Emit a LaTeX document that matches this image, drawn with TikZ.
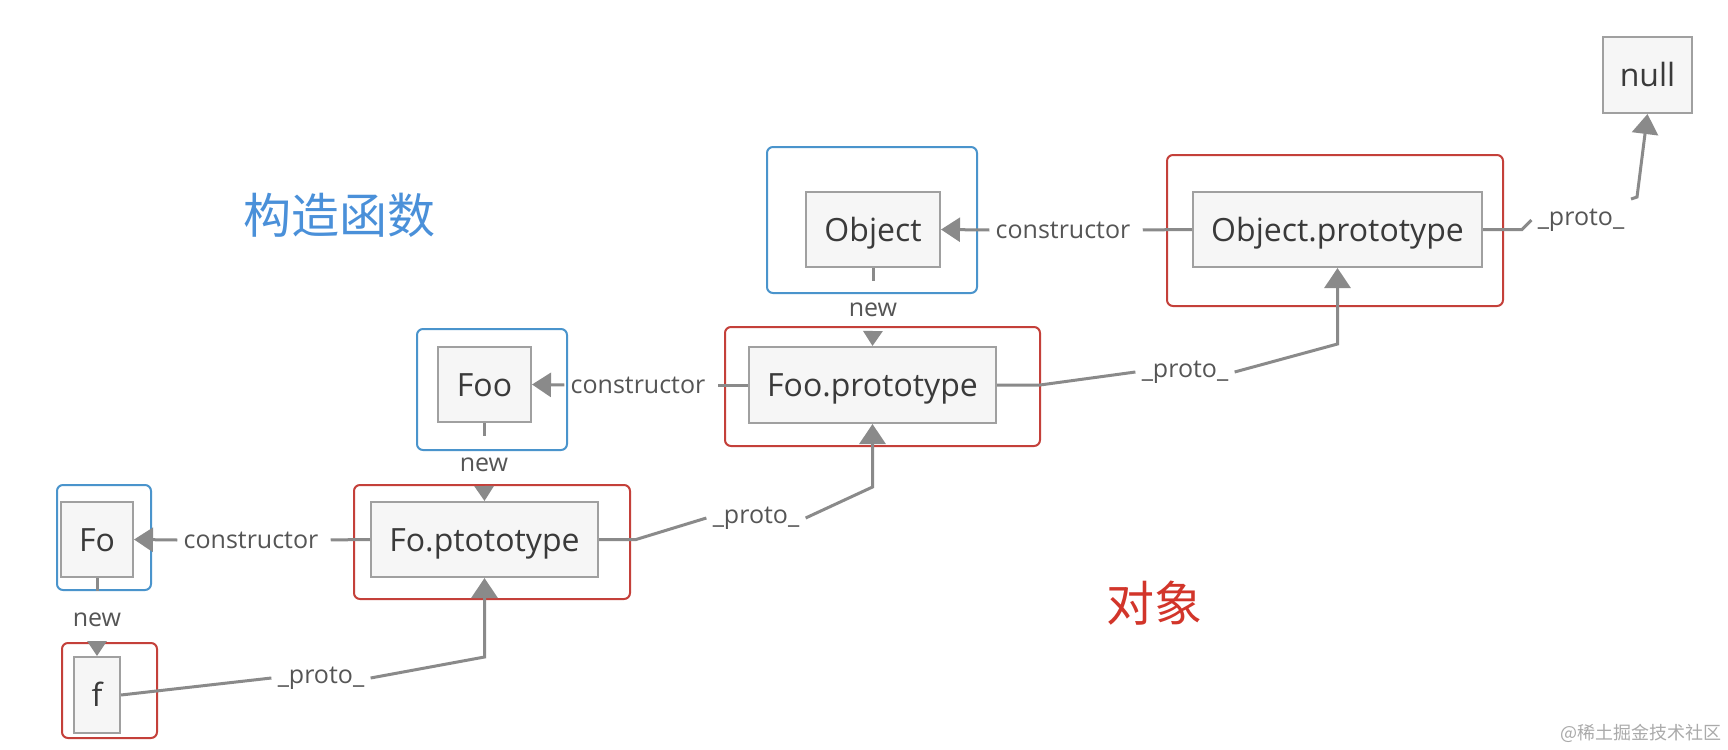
\documentclass[tikz,border=0pt]{standalone}
\usepackage{fontspec}
\setmainfont{Open Sans}
\newfontfamily\cjk{Noto Sans CJK SC}
\usetikzlibrary{arrows.meta}
\definecolor{conncol}{HTML}{8A8A8A}
\definecolor{boxline}{HTML}{A0A0A0}
\definecolor{boxfill}{HTML}{F6F6F6}
\definecolor{frameblue}{HTML}{4A94CC}
\definecolor{framered}{HTML}{C4403A}
\definecolor{txt}{HTML}{3A3A3A}
\definecolor{lbl}{HTML}{555555}
\definecolor{titleblue}{HTML}{4A90D9}
\definecolor{titlered}{HTML}{D2352A}
\definecolor{wmcol}{HTML}{AAAAAA}
\begin{document}
\begin{tikzpicture}[x=0.5pt,y=-0.5pt,
  objbox/.style={draw=boxline,fill=boxfill,line width=1pt,inner sep=0pt,
    font=\fontsize{16}{19}\selectfont,text=txt,text height=11.6pt,text depth=0pt},
  bframe/.style={draw=frameblue,line width=1pt,rounded corners=3pt,inner sep=0pt},
  rframe/.style={draw=framered,line width=1pt,rounded corners=3pt,inner sep=0pt},
  lab/.style={font=\fontsize{12.5}{15}\selectfont,text=lbl,inner sep=3pt},
  conn/.style={draw=conncol,line width=1.5pt},
  bigtip/.style={-{Triangle[length=10pt,width=13pt]}},
  midtip/.style={-{Triangle[length=9.5pt,width=12pt]}},
  smalltip/.style={-{Triangle[length=7.5pt,width=9.5pt]}},
  title/.style={font=\cjk\fontsize{24}{28}\selectfont,inner sep=0pt}
]
\useasboundingbox (0,0) rectangle (1728,749);
\fill[white] (0,0) rectangle (1728,749);

% outer frames
\node[rframe,minimum width=168pt,minimum height=75.5pt] (OPf) at (1335,230.5) {};
\node[bframe,minimum width=105pt,minimum height=73pt] (Objf) at (872,220) {};
\node[rframe,minimum width=157.5pt,minimum height=59.5pt] (FooPf) at (882.5,386.5) {};
\node[bframe,minimum width=75pt,minimum height=60.5pt] (Foof) at (492,389.5) {};
\node[rframe,minimum width=138pt,minimum height=57pt] (FoPf) at (492,542) {};
\node[bframe,minimum width=47pt,minimum height=52.5pt] (Fof) at (104,537.5) {};
\node[rframe,minimum width=47.5pt,minimum height=47.5pt] (ff) at (109.5,690.5) {};

% inner boxes
\node[objbox,minimum width=44.5pt,minimum height=38pt] (null) at (1647.5,75) {null};
\node[objbox,minimum width=144.5pt,minimum height=37.5pt] (OP) at (1337.5,229.5) {Object.prototype};
\node[objbox,minimum width=67pt,minimum height=37.5pt] (Obj) at (873,229.5) {Object};
\node[objbox,minimum width=123.5pt,minimum height=38pt] (FooP) at (872.5,385) {Foo.prototype};
\node[objbox,minimum width=46.5pt,minimum height=37.5pt] (Foo) at (484.5,384.5) {Foo};
\node[objbox,minimum width=113.5pt,minimum height=37.5pt] (FoP) at (484.5,539.5) {Fo.ptototype};
\node[objbox,minimum width=36pt,minimum height=37.5pt] (Fo) at (97,539.5) {Fo};
\node[objbox,minimum width=23pt,minimum height=38pt] (f) at (97,695) {f};

% labels
\node[lab] (c1) at (1063,230) {constructor};
\node[lab] (c2) at (638,385) {constructor};
\node[lab] (c3) at (251,540) {constructor};
\node[lab] (n1) at (873,310) {new};
\node[lab] (n2) at (484,465) {new};
\node[lab] (n3) at (97,620) {new};
\node[lab] (p0) at (1581,220) {\_proto\_};
\node[lab] (p1) at (1185,372) {\_proto\_};
\node[lab] (p2) at (756,518) {\_proto\_};
\node[lab] (p3) at (321,678) {\_proto\_};

% bend points
\coordinate (a0) at (1522,229.5);
\coordinate (h0) at (1631,199);
\coordinate (b0) at (1637,197);
\coordinate (a1) at (1040,385);
\coordinate (b1) at (1337.5,344);
\coordinate (a2) at (636,539.5);
\coordinate (b2) at (872.5,487);
\coordinate (b3) at (484.5,657);

% constructor links
\draw[conn,shorten >=3pt] (OP.west) -- (c1.east);
\draw[conn,midtip] (c1.west) -- (Obj.east);
\draw[conn,shorten >=3pt] (FooP.west) -- (c2.east);
\draw[conn,midtip] (c2.west) -- (Foo.east);
\draw[conn,shorten >=3pt] (FoP.west) -- (c3.east);
\draw[conn,midtip] (c3.west) -- (Fo.east);

% new links
\draw[conn] (Obj.south) -- ([yshift=-6.5pt]Obj.south);
\draw[conn,smalltip,shorten <=4pt] (n1.south) -- (FooP.north);
\draw[conn] (Foo.south) -- ([yshift=-6.5pt]Foo.south);
\draw[conn,smalltip,shorten <=4pt] (n2.south) -- (FoP.north);
\draw[conn] (Fo.south) -- ([yshift=-6.5pt]Fo.south);
\draw[conn,smalltip,shorten <=4pt] (n3.south) -- (f.north);

% proto links
\draw[conn] (f.east) -- (p3.west);
\draw[conn,bigtip] (p3.east) -- (b3) -- (FoP.south);
\draw[conn] (FoP.east) -- (a2) -- (p2.west);
\draw[conn,bigtip] (p2.east) -- (b2) -- (FooP.south);
\draw[conn] (FooP.east) -- (a1) -- (p1.west);
\draw[conn,bigtip] (p1.east) -- (b1) -- (OP.south);
\draw[conn] (OP.east) -- (a0) -- (p0.west);
\draw[conn,bigtip] (h0) -- (b0) -- (null.south);

% titles
\node[title,text=titleblue] (t1) at (339,215) {构造函数};
\node[title,text=titlered] (t2) at (1154,603) {对象};
\node[font=\cjk\fontsize{9}{11}\selectfont,text=wmcol,inner sep=0pt] (wm) at (1641,733) {@稀土掘金技术社区};
\end{tikzpicture}
\end{document}
